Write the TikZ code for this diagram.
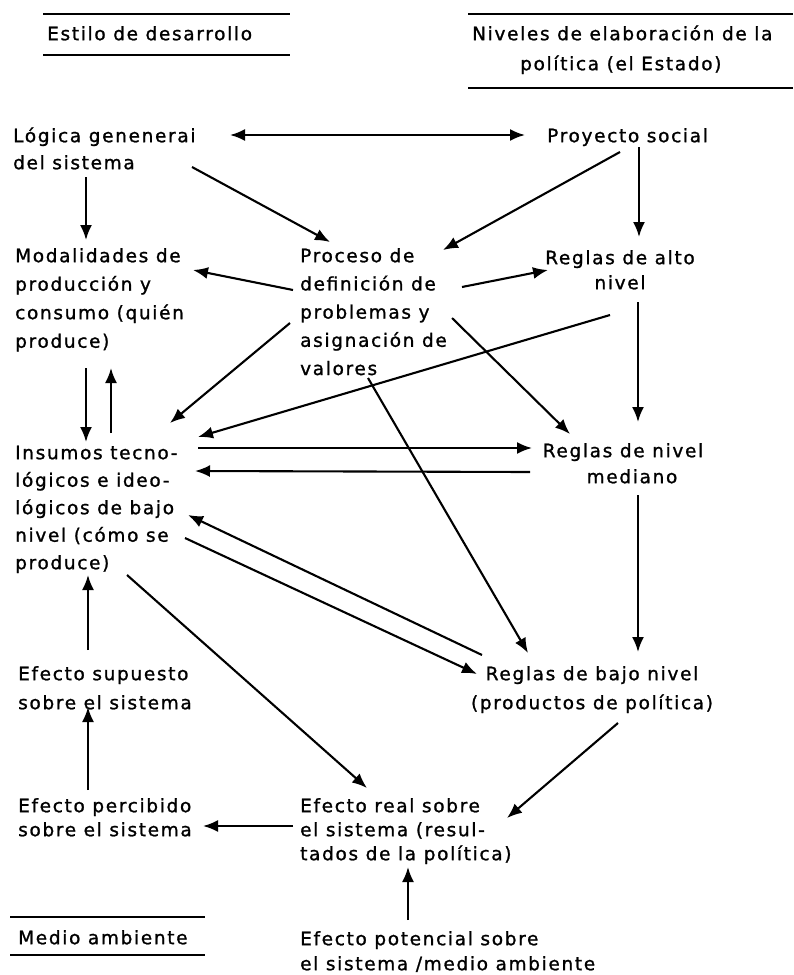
\documentclass[tikz,border=0pt]{standalone}
\usepackage{fontspec}
\setmainfont{DejaVu Sans}[LetterSpace=9,FakeBold=1.2]
\usetikzlibrary{arrows.meta,calc}
\newcommand\mystrut{\rule{0pt}{15pt}}
\tikzset{
  txt/.style={inner sep=0pt, align=left, anchor=north west, font=\fontsize{18.5}{#1}\selectfont},
  txt/.default=27,
  ctxt/.style={inner sep=0pt, align=center, anchor=north, font=\fontsize{18.5}{#1}\selectfont},
  ctxt/.default=26,
  arr/.style={line width=2.1pt, -{Latex[length=15pt,width=12pt]}},
  darr/.style={line width=2.1pt, {Latex[length=15pt,width=12pt]}-{Latex[length=15pt,width=12pt]}},
  hrule/.style={line width=2.2pt}
}
\begin{document}
\begin{tikzpicture}[x=1pt,y=-1pt]
\useasboundingbox (0,0) rectangle (793,975);
% headers
\node[txt] (estilo) at (47,25) {\mystrut Estilo de desarrollo};
\draw[hrule] (43,14) -- (290,14);
\draw[hrule] (43,55) -- (290,55);
\node[txt=30] (niveles) at (472,25) {\mystrut Niveles de elaboración de la\\\hspace*{48pt}política (el Estado)};
\draw[hrule] (468,14) -- (793,14);
\draw[hrule] (468,88) -- (793,88);
\node[txt] (medio) at (18,929) {\mystrut Medio ambiente};
\draw[hrule] (10,917) -- (205,917);
\draw[hrule] (10,955) -- (205,955);
% nodes
\node[txt=27] (logica) at (13,127) {\mystrut Lógica genenerai\\del sistema};
\node[txt] (proyecto) at (547,127) {\mystrut Proyecto social};
\node[txt=28.5] (modal) at (15,247) {\mystrut Modalidades de\\producción y\\consumo (quién\\produce)};
\node[txt=28.2] (proceso) at (300,247) {\mystrut Proceso de\\definición de\\problemas y\\asignación de\\valores};
\node[ctxt=25] (alto) at (620,249) {\mystrut Reglas de alto\\nivel};
\node[txt=27.5] (insumos) at (15,444) {\mystrut Insumos tecno-\\lógicos e ideo-\\lógicos de bajo\\nivel (cómo se\\produce)};
\node[ctxt=26] (mediano) at (623,442) {\mystrut Reglas de nivel\\\hspace*{18pt}mediano};
\node[ctxt=29] (bajo) at (592,665) {\mystrut Reglas de bajo nivel\\(productos de política)};
\node[txt=29] (supuesto) at (18,665) {\mystrut Efecto supuesto\\sobre el sistema};
\node[txt=24] (percibido) at (18,797) {\mystrut Efecto percibido\\sobre el sistema};
\node[txt=24] (real) at (300,797) {\mystrut Efecto real sobre\\el sistema (resul-\\tados de la política)};
\node[txt=25] (potencial) at (300,930) {\mystrut Efecto potencial sobre\\el sistema /medio ambiente};
% connectors
\draw[darr] ($(logica.north west)+(217,8)$) -- ($(proyecto.north west)+(-22,8)$);
\draw[arr] ($(logica.north west)+(73,50)$) -- ($(modal.north west)+(71,-7)$);
\draw[arr] ($(logica.north west)+(179,40)$) -- ($(proceso.north west)+(30,-5)$);
\draw[arr] ($(proyecto.north west)+(73,25)$) -- ($(proceso.north west)+(143,3)$);
\draw[arr] ($(proyecto.north west)+(92,20)$) -- ($(alto.north)+(19,-12)$);
\draw[arr] ($(proceso.north west)+(162,40)$) -- ($(alto.north)+(-72,21)$);
\draw[arr] ($(proceso.north west)+(-7,43)$) -- ($(modal.north west)+(178,23)$);
\draw[arr] ($(proceso.north west)+(-10,76)$) -- ($(insumos.north west)+(155,-21)$);
\draw[arr] ($(alto.north)+(-10,66)$) -- ($(insumos.north west)+(183,-7)$);
\draw[arr] ($(proceso.north west)+(152,71)$) -- ($(mediano.north)+(-53,-8)$);
\draw[arr] ($(proceso.north west)+(68,131)$) -- ($(bajo.north)+(-64,-12)$);
\draw[arr] ($(alto.north)+(18,53)$) -- ($(mediano.north)+(15,-20)$);
\draw[arr] ($(modal.north west)+(71,121)$) -- ($(insumos.north west)+(71,-2)$);
\draw[arr] ($(insumos.north west)+(96,-11)$) -- ($(modal.north west)+(96,121)$);
\draw[arr] ($(insumos.north west)+(183,4)$) -- ($(mediano.north)+(-91,6)$);
\draw[arr] ($(mediano.north)+(-93,30)$) -- ($(insumos.north west)+(180,27)$);
\draw[arr] ($(mediano.north)+(15,53)$) -- ($(bajo.north)+(46,-13)$);
\draw[arr] ($(bajo.north)+(-110,-10)$) -- ($(insumos.north west)+(173,71)$);
\draw[arr] ($(insumos.north west)+(170,94)$) -- ($(bajo.north)+(-115,9)$);
\draw[arr] ($(insumos.north west)+(112,131)$) -- ($(real.north west)+(67,-9)$);
\draw[arr] ($(supuesto.north west)+(70,-15)$) -- ($(insumos.north west)+(73,131)$);
\draw[arr] ($(percibido.north west)+(70,-7)$) -- ($(supuesto.north west)+(70,42)$);
\draw[arr] ($(real.north west)+(-7,29)$) -- ($(percibido.north west)+(185,29)$);
\draw[arr] ($(bajo.north)+(26,58)$) -- ($(real.north west)+(207,21)$);
\draw[arr] ($(potencial.north west)+(108,-10)$) -- ($(real.north west)+(108,70)$);
\end{tikzpicture}
\end{document}
